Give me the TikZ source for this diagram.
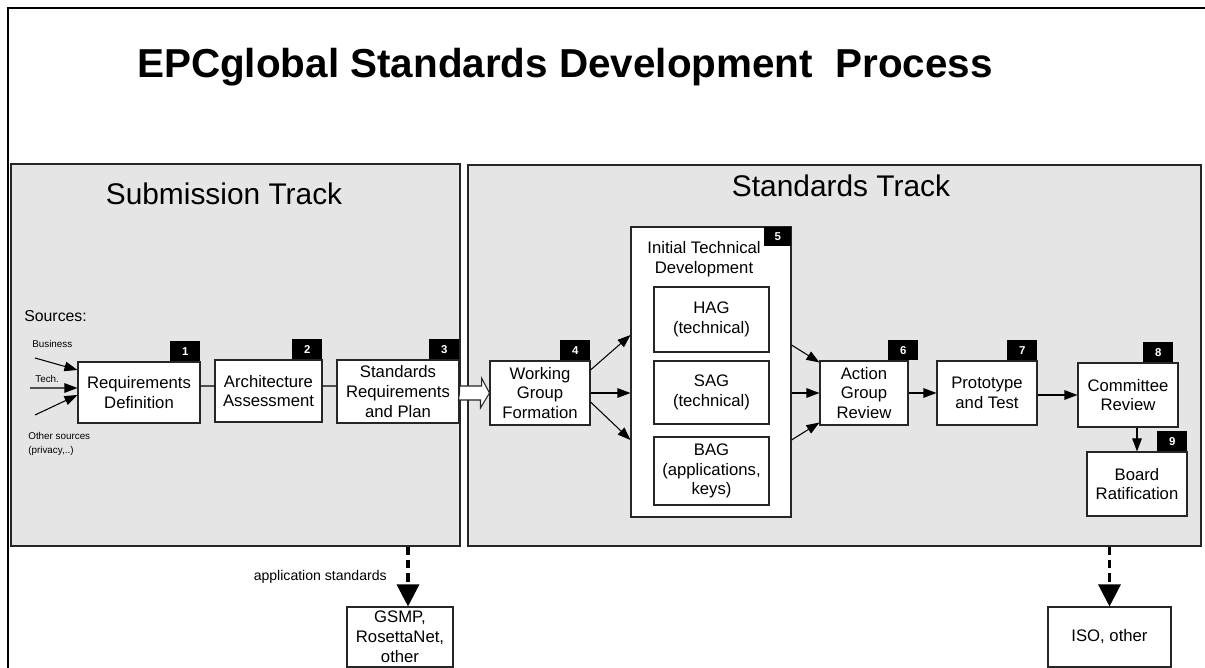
\documentclass[tikz,border=0pt]{standalone}
\usepackage{fontspec}
\setmainfont{Liberation Sans}
\usepackage{tikz}
\usetikzlibrary{positioning,arrows.meta}

\begin{document}
\begin{tikzpicture}[x=0.2mm,y=-0.2mm,>={Triangle[length=2.6mm,width=1.9mm]}]
  \tikzstyle{panel}=[draw=black!85,line width=0.6pt,fill=black!10,inner sep=0pt]
  \tikzstyle{box}=[draw=black!85,line width=0.6pt,fill=white,align=center,inner sep=1pt,font=\fontsize{9.5}{11.3}\selectfont]
  \tikzstyle{badge}=[fill=black,text=white,minimum width=6mm,minimum height=4mm,inner sep=0pt,font=\bfseries\fontsize{6.5}{7}\selectfont]
  \tikzstyle{small}=[inner sep=0pt,align=left,font=\fontsize{5.6}{8}\selectfont]
  \tikzstyle{flow}=[->,line width=0.6pt]
  \tikzstyle{link}=[line width=0.6pt]
  \tikzstyle{export}=[-{Triangle[length=4.4mm,width=4.4mm]},line width=1.8pt,dash pattern=on 5pt off 2.5pt]

  \useasboundingbox (0,0) rectangle (1205,668);
  \draw[line width=1.7pt] (8,8) rectangle (1240,700);

  \node[anchor=base,inner sep=0pt,font=\bfseries\fontsize{23}{27}\selectfont] (title) at (565,78) {EPCglobal Standards Development\ \ Process};

  % tracks
  \node[panel,minimum width=89.8mm,minimum height=76.4mm] (subtrack) at (235.5,355) {};
  \node[panel,minimum width=146.6mm,minimum height=76.2mm] (stdtrack) at (834.5,355.5) {};
  \node[anchor=base,inner sep=0pt,font=\fontsize{17}{20}\selectfont] (subtitle) at (224,205) {Submission Track};
  \node[anchor=base,inner sep=0pt,font=\fontsize{17}{20}\selectfont] (stdtitle) at (841,197) {Standards Track};

  % sources
  \node[anchor=base west,inner sep=0pt,font=\fontsize{9}{11}\selectfont] (sources) at (24,322) {Sources:};
  \node[small,anchor=base west] (biztext) at (32,348) {Business};
  \node[small,anchor=base west] (techtext) at (35,383) {Tech.};
  \node[small,anchor=north west] (othertext) at (28,432) {Other sources\\(privacy,..)};

  % steps
  \node[box,minimum width=24.4mm,minimum height=12.2mm] (req) at (139,392.5) {Requirements\\Definition};
  \node[box,minimum width=21.4mm,minimum height=12.4mm] (arch) at (268.5,391) {Architecture\\Assessment};
  \node[box,minimum width=24.4mm,minimum height=12.6mm] (stdreq) at (398,391.5) {Standards\\Requirements\\and Plan};
  \node[box,minimum width=20mm,minimum height=12.8mm] (wgf) at (540,393) {Working\\Group\\Formation};
  \node[box,minimum width=32mm,minimum height=58mm] (itd) at (711,372) {};
  \node[anchor=north,inner sep=0pt,align=center,font=\fontsize{9.5}{11.3}\selectfont] (itdtext) at (704,241) {Initial Technical\\Development};
  \node[box,minimum width=23mm,minimum height=13mm] (hag) at (711.5,319.5) {HAG\\(technical)};
  \node[box,minimum width=23mm,minimum height=12.6mm] (sag) at (711.5,392.5) {SAG\\(technical)};
  \node[box,minimum width=23mm,minimum height=13.6mm] (bag) at (711.5,471) {BAG\\(applications,\\keys)};
  \node[box,minimum width=17.6mm,minimum height=12.8mm] (agr) at (864,393) {Action\\Group\\Review};
  \node[box,minimum width=20mm,minimum height=12.8mm] (proto) at (987,393) {Prototype\\and Test};
  \node[box,minimum width=20mm,minimum height=12.8mm] (comm) at (1128,395) {Committee\\Review};
  \node[box,minimum width=20mm,minimum height=12.8mm] (board) at (1137,484) {Board\\Ratification};
  \node[box,minimum width=21.2mm,minimum height=12mm] (gsmp) at (400,637) {GSMP,\\RosettaNet,\\other};
  \node[box,minimum width=24.6mm,minimum height=12mm] (iso) at (1109.5,637) {ISO, other};

  % numbers
  \node[badge,anchor=south east] (n1) at (req.north east) {1};
  \node[badge,anchor=south east] (n2) at (arch.north east) {2};
  \node[badge,anchor=south east] (n3) at (stdreq.north east) {3};
  \node[badge,anchor=south east] (n4) at (wgf.north east) {4};
  \node[badge,anchor=north east,minimum width=5.4mm,minimum height=3.8mm] (n5) at (itd.north east) {5};
  \node[badge,anchor=south east] (n6) at ([xshift=2mm]agr.north east) {6};
  \node[badge,anchor=south east] (n7) at (proto.north east) {7};
  \node[badge,anchor=south east] (n8) at ([xshift=-1mm]comm.north east) {8};
  \node[badge,anchor=south east] (n9) at (board.north east) {9};

  % connectors
  \coordinate (biz) at (35,358);
  \coordinate (tech) at (30,388);
  \coordinate (other) at (35,415);
  \draw[flow] (biz) -- ([yshift=4.5mm]req.west);
  \draw[flow] (tech) -- ([yshift=0.9mm]req.west);
  \draw[flow] (other) -- ([yshift=-0.5mm]req.west);
  \draw[link] ([yshift=1.3mm]req.east) -- ([yshift=1mm]arch.west);
  \draw[link] ([yshift=1mm]arch.east) -- ([yshift=1.1mm]stdreq.west);
  \draw[draw=black!85,line width=0.6pt,fill=white] (stdreq.east |- wgf.west) -- ++(0,-7) -- ++(22,0) -- ++(0,-8)
    -- (wgf.west) -- ++(-9,15) -- ++(0,-8) -- ++(-22,0) -- cycle;
  \draw[flow] ([yshift=4.6mm]wgf.east) -- ([yshift=7.4mm]itd.west);
  \draw[flow] (wgf.east) -- (wgf.east -| itd.west);
  \draw[flow] ([yshift=-1.8mm]wgf.east) -- ([yshift=-13.6mm]itd.west);
  \draw[flow] ([yshift=5.4mm]itd.east) -- ([yshift=-0.4mm]agr.north west);
  \draw[flow] (agr.west -| itd.east) -- (agr.west);
  \draw[flow] ([yshift=-13.6mm]itd.east) -- ([yshift=0.6mm]agr.south west);
  \draw[flow] (agr) -- (proto);
  \draw[flow] (comm.west -| proto.east) -- (comm.west);
  \draw[flow] (board.north |- comm.south) -- (board.north);

  \node[anchor=base east,inner sep=0pt,font=\fontsize{8}{10}\selectfont] (apptext) at (387,580) {application standards};
  \draw[export] ([xshift=1.6mm]gsmp.north |- subtrack.south) -- ([xshift=1.6mm]gsmp.north);
  \draw[export] (iso.north |- stdtrack.south) -- (iso.north);
\end{tikzpicture}
\end{document}
